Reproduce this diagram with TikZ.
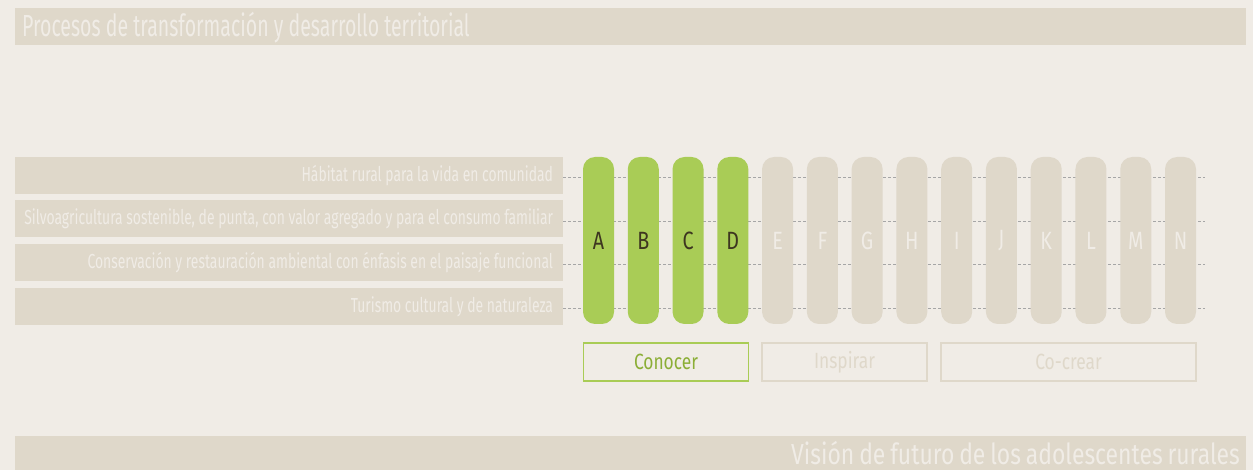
\documentclass[tikz,border=0pt]{standalone}
\usepackage{fontspec}
\setmainfont{Fira Sans}[FakeStretch=0.64]
\newfontfamily\rowfont{Fira Sans}[FakeStretch=0.685]
\newfontfamily\widefont{Fira Sans}[FakeStretch=0.79, WordSpace=0.8]
\usetikzlibrary{calc}
\definecolor{paper}{HTML}{F0ECE6}
\definecolor{sand}{HTML}{DFD8CA}
\definecolor{leaf}{HTML}{A9CC56}
\definecolor{leafdark}{HTML}{8BAE36}
\definecolor{ink}{HTML}{3D3620}
\newcommand{\rowtext}[1]{\makebox[528pt][r]{#1}}
\tikzset{
	bannerstyle/.style={rectangle, fill=sand, inner sep=0pt, minimum height=37pt, minimum width=1231pt},
	rowstyle/.style={rectangle, fill=sand, text=paper, inner xsep=10pt, inner ysep=0pt, minimum height=37pt, minimum width=548pt, font=\rowfont\fontsize{20.3}{20.3}\selectfont},
	onstyle/.style={rectangle, rounded corners=12pt, fill=leaf, text=ink, inner sep=0pt, minimum width=31pt, minimum height=167pt, font=\widefont\fontsize{25}{25}\selectfont},
	offstyle/.style={onstyle, fill=sand, text=paper},
	stagestyle/.style={rectangle, draw=sand, line width=1.6pt, text=sand, inner sep=0pt, minimum height=38pt, font=\widefont\fontsize{22}{22}\selectfont},
	guidestyle/.style={gray!70, dash pattern=on 3pt off 2pt, line width=0.6pt}
}

\begin{document}
\begin{tikzpicture}[x=1pt, y=-1pt]

\def\xdist{44.77}
\def\ypill{240.5}

\fill[paper] (0, 0) rectangle (1253, 470);
\useasboundingbox (0, 0) rectangle (1253, 470);

\node[bannerstyle] (top) at (630.5, 26.5) {};
\node[right, inner sep=0pt, text=paper, font=\fontsize{30.5}{30.5}\selectfont] (title) at (22, 28) {Procesos de transformación y desarrollo territorial};

\node[rowstyle] (r1) at (289, 175.5) {\rowtext{Hábitat rural para la vida en comunidad}};
\node[rowstyle] (r2) at (289, 219)   {\rowtext{Silvoagricultura sostenible, de punta, con valor agregado y para el consumo familiar}};
\node[rowstyle] (r3) at (289, 262.5) {\rowtext{Conservación y restauración ambiental con énfasis en el paisaje funcional}};
\node[rowstyle] (r4) at (289, 306.5) {\rowtext{Turismo cultural y de naturaleza}};

\coordinate (e1) at (1205, 177.5);
\coordinate (e2) at (1205, 221);
\coordinate (e3) at (1205, 264.5);
\coordinate (e4) at (1205, 308);

\draw[guidestyle] (r1.east |- e1)--(e1);
\draw[guidestyle] (r2.east |- e2)--(e2);
\draw[guidestyle] (r3.east |- e3)--(e3);
\draw[guidestyle] (r4.east |- e4)--(e4);

\node[onstyle]  (pa) at (598.5 + 0 * \xdist, \ypill)  {A};
\node[onstyle]  (pb) at (598.5 + 1 * \xdist, \ypill)  {B};
\node[onstyle]  (pc) at (598.5 + 2 * \xdist, \ypill)  {C};
\node[onstyle]  (pd) at (598.5 + 3 * \xdist, \ypill)  {D};
\node[offstyle] (pe) at (598.5 + 4 * \xdist, \ypill)  {E};
\node[offstyle] (pf) at (598.5 + 5 * \xdist, \ypill)  {F};
\node[offstyle] (pg) at (598.5 + 6 * \xdist, \ypill)  {G};
\node[offstyle] (ph) at (598.5 + 7 * \xdist, \ypill)  {H};
\node[offstyle] (pi) at (598.5 + 8 * \xdist, \ypill)  {I};
\node[offstyle] (pj) at (598.5 + 9 * \xdist, \ypill)  {J};
\node[offstyle] (pk) at (598.5 + 10 * \xdist, \ypill) {K};
\node[offstyle] (pl) at (598.5 + 11 * \xdist, \ypill) {L};
\node[offstyle] (pm) at (598.5 + 12 * \xdist, \ypill) {M};
\node[offstyle] (pn) at (598.5 + 13 * \xdist, \ypill) {N};

\node[stagestyle, draw=leaf, text=leafdark, minimum width=165pt] (know)    at (666, 362)    {Conocer};
\node[stagestyle, minimum width=165pt]                          (inspire) at (844.5, 362)  {Inspirar};
\node[stagestyle, minimum width=255pt]                          (create)  at (1068.5, 362) {Co-crear};

\node[bannerstyle, minimum height=34pt] (bottom) at (630.5, 453) {};
\node[left, inner sep=0pt, text=paper, font=\widefont\fontsize{29}{29}\selectfont] (vision) at (1240, 453) {Visión de futuro de los adolescentes rurales};

\end{tikzpicture}
\end{document}
